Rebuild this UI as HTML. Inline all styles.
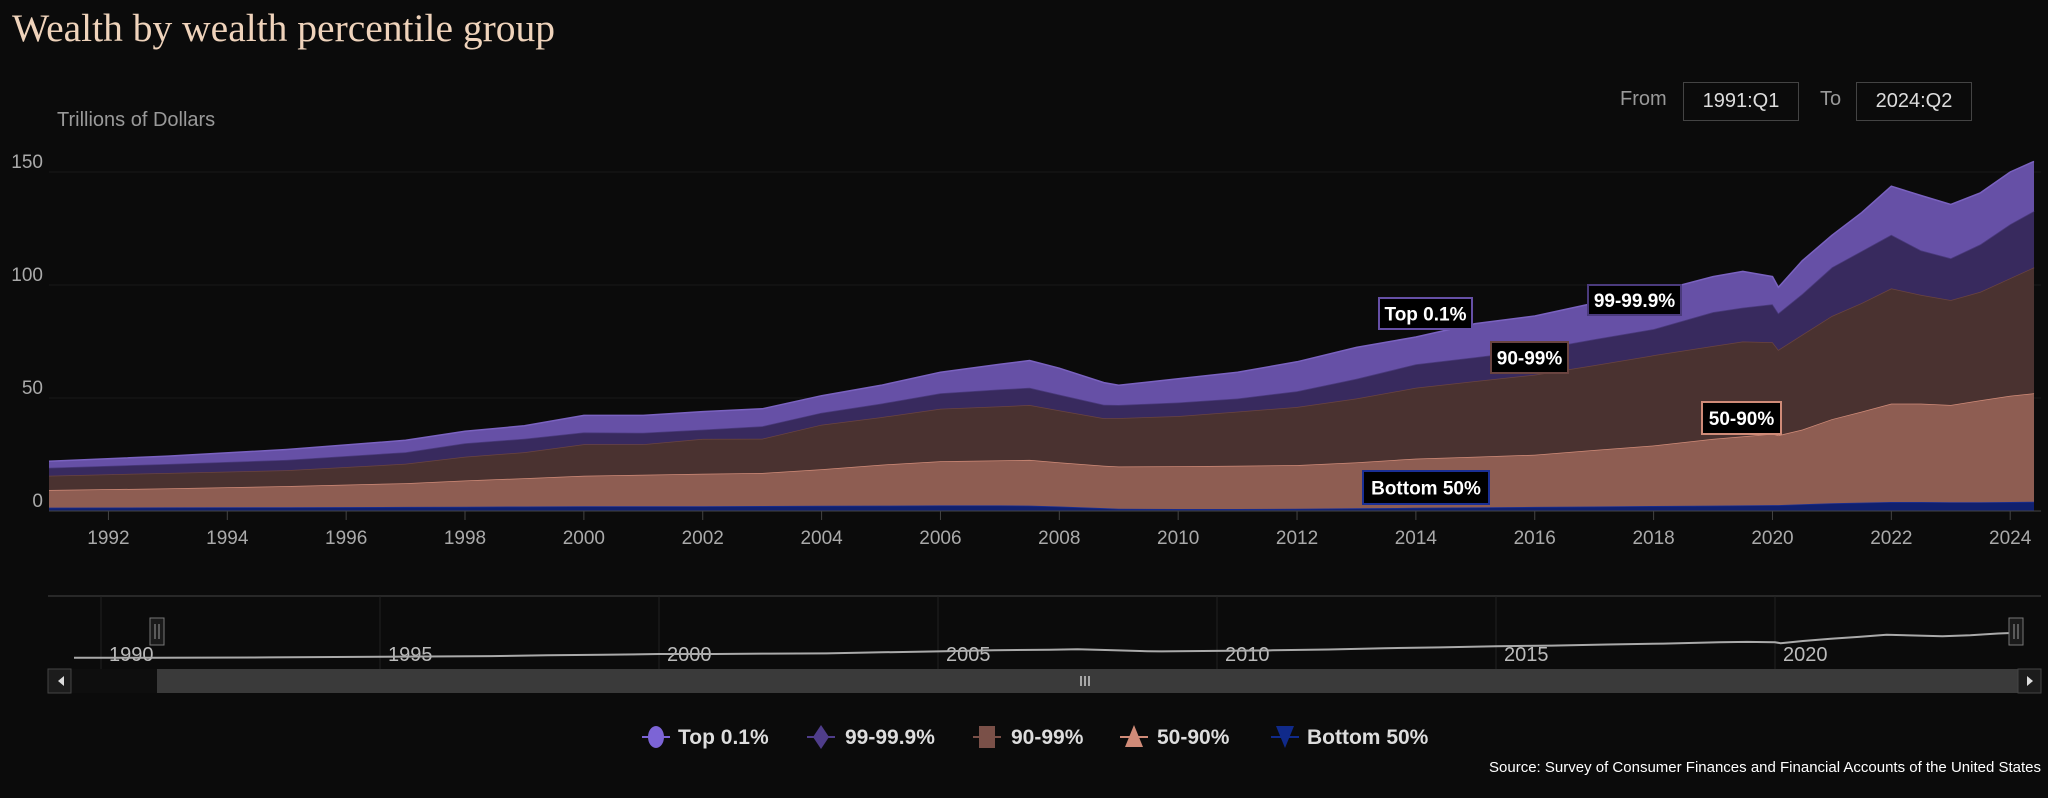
<!DOCTYPE html>
<html><head><meta charset="utf-8"><style>
html,body{margin:0;padding:0;background:#0b0b0b;}
body{width:2048px;height:798px;overflow:hidden;position:relative;font-family:"Liberation Sans",sans-serif;}
#title{position:absolute;left:12px;top:5px;font-family:"Liberation Serif",serif;font-size:39.5px;color:#efd3bb;}
.lbl{position:absolute;color:#999;font-size:20px;}
.box{position:absolute;border:1px solid #444;color:#ddd;font-size:20px;text-align:center;line-height:36px;background:#0b0b0b;}
</style></head><body>
<div id="title">Wealth by wealth percentile group</div>
<div class="lbl" style="left:1620px;top:88px;">From</div>
<div class="box" style="left:1683px;top:82px;width:114px;height:37px;">1991:Q1</div>
<div class="lbl" style="left:1820px;top:88px;">To</div>
<div class="box" style="left:1856px;top:82px;width:114px;height:37px;">2024:Q2</div>
<svg id="chart" width="2048" height="798" style="position:absolute;left:0;top:0"></svg>
<script>
const years=[1991,1993,1995,1997,1998,1999,2000,2001,2002,2003,2004,2005,2006,2007,2007.5,2008,2008.75,2009,2010,2011,2012,2013,2014,2015,2016,2017,2018,2019,2019.5,2020,2020.1,2020.5,2021,2021.5,2022,2022.5,2023,2023.5,2024,2024.4];
const bottom50=[1.5,1.6,1.7,1.8,1.9,2.0,2.1,2.1,2.1,2.2,2.3,2.4,2.5,2.5,2.4,2.0,1.3,1.0,0.9,0.9,1.0,1.2,1.4,1.6,1.8,2.0,2.2,2.4,2.5,2.6,2.6,3.0,3.4,3.7,4.0,4.0,3.9,3.9,4.0,4.1];
const p50to90=[7.8,8.4,9.3,10.5,11.6,12.5,13.5,13.9,14.4,14.6,16.2,18.1,19.5,19.9,20.2,19.5,18.7,18.7,18.9,19.1,19.3,20.3,21.8,22.4,23.1,25,26.8,29.5,30.5,31.6,30.9,33,37.2,40.3,43.5,43.5,43,45.1,47,48];
const p90to99=[6.3,6.8,7,8.6,10.5,11.5,13.9,13.5,15.4,15.2,19.7,21,23.2,23.9,24.3,23,21,21.4,22.2,24,25.7,28.3,31.3,33.5,35.4,37.5,39.9,41.1,42,40.5,37.8,42,45.7,48,51,48.1,46.4,48,52,55.7];
const p99to999=[3.5,4,4.6,5.1,6,6,5.3,5.1,4.1,5.5,5.3,6,6.9,7.5,7.6,7,6,5.8,6,5.8,7,8.7,10.4,10.5,11,11.5,11.6,15,15,16.8,16.2,18,21.5,23,23.7,19.7,18.5,21,23.9,24.9];
const top01=[2.9,3.5,4.6,5.3,5.3,5.7,7.5,7.7,8,7.7,7.5,8.1,9.3,11.1,12.1,11.7,9.8,8.7,10.5,11.6,13,13.9,12.1,14.9,15,16,16.3,15.7,16,12.2,11.5,14.7,14.2,17,21.5,24.3,23.8,22.8,23.1,22];
const yTicks=[0,50,100,150];
const xTicks=[1992,1994,1996,1998,2000,2002,2004,2006,2008,2010,2012,2014,2016,2018,2020,2022,2024];
const navTicks=[1990,1995,2000,2005,2010,2015,2020];
const seriesNames=["Bottom 50%","50-90%","90-99%","99-99.9%","Top 0.1%"];

const svg=document.getElementById('chart');
const NS='http://www.w3.org/2000/svg';
function mk(t,a,p){const e=document.createElementNS(NS,t);for(const k in a)e.setAttribute(k,a[k]);(p||svg).appendChild(e);return e;}
const X=yr=>49+(yr-1991)*59.43;
const Y=v=>511-v*2.26;
const NX=yr=>101+(yr-1990)*55.8;
const NY=v=>662-v*0.19;

yTicks.forEach(t=>{
  const g=mk('line',{x1:49,x2:2041,y1:Y(t),y2:Y(t),stroke:'#1a1a1a','stroke-width':1});
  
  
  const tx=mk('text',{x:43,y:Y(t)-4,'text-anchor':'end','font-size':19,fill:'#aaa','font-family':'Liberation Sans, sans-serif'});
  tx.textContent=t;
  
  
});
const yt=mk('text',{x:57,y:126,'font-size':20,fill:'#999','font-family':'Liberation Sans, sans-serif'});
yt.textContent='Trillions of Dollars';



const series=[bottom50,p50to90,p90to99,p99to999,top01];
const fills=['#10206e','#8e5d52','#4a3230','#382a5e','#6650a6'];
const strokes=['#1a2f95','#d08b78','#6a4440','#4a3a7c','#7a62c0'];
const cum=years.map(()=>0);
series.forEach((s,si)=>{
  const lower=cum.slice();
  s.forEach((v,i)=>cum[i]+=v);
  let d='';
  years.forEach((yr,i)=>{d+=(i?'L':'M')+X(yr).toFixed(1)+','+Y(cum[i]).toFixed(1);});
  let top=d;
  for(let i=years.length-1;i>=0;i--)d+='L'+X(years[i]).toFixed(1)+','+Y(lower[i]).toFixed(1);
  d+='Z';
  const a=mk('path',{d:d,fill:fills[si],stroke:'none'});
  
  
  const l=mk('path',{d:top,fill:'none',stroke:strokes[si],'stroke-width':1.5});
  
  
});
const totals=cum.slice();

const ax=mk('line',{x1:49,x2:2041,y1:511,y2:511,stroke:'#444','stroke-width':1});


xTicks.forEach(t=>{
  const tk=mk('line',{x1:X(t),x2:X(t),y1:511,y2:520,stroke:'#444'});
  
  
  const tx=mk('text',{x:X(t),y:544,'text-anchor':'middle','font-size':19,fill:'#aaa','font-family':'Liberation Sans, sans-serif'});
  tx.textContent=t;
  
  
});

const labels=[
 {t:'Top 0.1%',x:1379,y:298,w:93,h:31,c:'#6650a6',n:'label-top-0-1'},
 {t:'99-99.9%',x:1588,y:285,w:93,h:30,c:'#4a3a7c',n:'label-99-99-9'},
 {t:'90-99%',x:1491,y:342,w:77,h:31,c:'#6a4440',n:'label-90-99'},
 {t:'50-90%',x:1702,y:402,w:79,h:32,c:'#d08b78',n:'label-50-90'},
 {t:'Bottom 50%',x:1363,y:471,w:126,h:33,c:'#1a2f95',n:'label-bottom-50'}];
labels.forEach(L=>{
  const g=mk('g',{});
  
  
  mk('rect',{x:L.x,y:L.y,width:L.w,height:L.h,fill:'#000',stroke:L.c,'stroke-width':2},g);
  const tx=mk('text',{x:L.x+L.w/2,y:L.y+L.h/2+7,'text-anchor':'middle','font-size':19,'font-weight':'bold',fill:'#fff','font-family':'Liberation Sans, sans-serif'},g);
  tx.textContent=L.t;
});

const nt=mk('line',{x1:48,x2:2041,y1:596,y2:596,stroke:'#444'});


navTicks.forEach(t=>{
  const gl=mk('line',{x1:NX(t),x2:NX(t),y1:596,y2:669,stroke:'#222'});
  
  
  const tx=mk('text',{x:NX(t)+8,y:661,'font-size':20,fill:'#bbb','font-family':'Liberation Sans, sans-serif'});
  tx.textContent=t;
  
  
});
let nd='M74,'+NY(totals[0]).toFixed(1);
years.forEach((yr,i)=>{nd+='L'+NX(yr).toFixed(1)+','+NY(totals[i]).toFixed(1);});
const nl=mk('path',{d:nd,fill:'none',stroke:'#aaa','stroke-width':2});


[[157,'navigator-left-handle'],[2016,'navigator-right-handle']].forEach(h=>{
  const g=mk('g',{});
  
  
  mk('rect',{x:h[0]-7,y:618,width:14,height:27,fill:'#1a1a1a',stroke:'#777'},g);
  mk('line',{x1:h[0]-2,x2:h[0]-2,y1:624,y2:639,stroke:'#999'},g);
  mk('line',{x1:h[0]+2,x2:h[0]+2,y1:624,y2:639,stroke:'#999'},g);
});
const sb=mk('rect',{x:48,y:669,width:1993,height:24,fill:'#0e0e0e'});


const th=mk('rect',{x:157,y:669,width:1861,height:24,fill:'#3a3a3a'});


mk('path',{d:'M1081,676v10M1085,676v10M1089,676v10',stroke:'#ccc','stroke-width':1.5});
[[48,'scrollbar-left-button','M64,676l-6,5l6,5z'],[2018,'scrollbar-right-button','M2027,676l6,5l-6,5z']].forEach(b=>{
  const g=mk('g',{});
  
  
  mk('rect',{x:b[0],y:669,width:23,height:24,fill:'#1c1c1c',stroke:'#444'},g);
  mk('path',{d:b[2],fill:'#ddd'},g);
});

const lg=[
 {x:656,tx:678,n:'Top 0.1%',c:'#7c64d6',s:'c'},
 {x:821,tx:845,n:'99-99.9%',c:'#4f3d8a',s:'d'},
 {x:987,tx:1011,n:'90-99%',c:'#7a5048',s:'s'},
 {x:1134,tx:1157,n:'50-90%',c:'#d08b78',s:'t'},
 {x:1285,tx:1307,n:'Bottom 50%',c:'#102a8a',s:'v'}];
lg.forEach(L=>{
  const g=mk('g',{});
  
  
  const cy=737;
  mk('line',{x1:L.x-14,x2:L.x+14,y1:cy,y2:cy,stroke:L.c,'stroke-width':2},g);
  if(L.s=='c')mk('ellipse',{cx:L.x,cy:cy,rx:8,ry:11,fill:L.c},g);
  if(L.s=='d')mk('path',{d:`M${L.x},${cy-12}l8,12l-8,12l-8,-12z`,fill:L.c},g);
  if(L.s=='s')mk('rect',{x:L.x-8,y:cy-11,width:16,height:22,fill:L.c},g);
  if(L.s=='t')mk('path',{d:`M${L.x},${cy-12}l9,22h-18z`,fill:L.c},g);
  if(L.s=='v')mk('path',{d:`M${L.x},${cy+11}l9,-22h-18z`,fill:L.c},g);
  const tx=mk('text',{x:L.tx,y:cy+7,'font-size':21,'font-weight':'bold',fill:'#ddd','font-family':'Liberation Sans, sans-serif'},g);
  tx.textContent=L.n;
});
const src=mk('text',{x:2041,y:772,'text-anchor':'end','font-size':15,fill:'#fff','font-family':'Liberation Sans, sans-serif'});
src.textContent='Source: Survey of Consumer Finances and Financial Accounts of the United States';


</script>
</body></html>
